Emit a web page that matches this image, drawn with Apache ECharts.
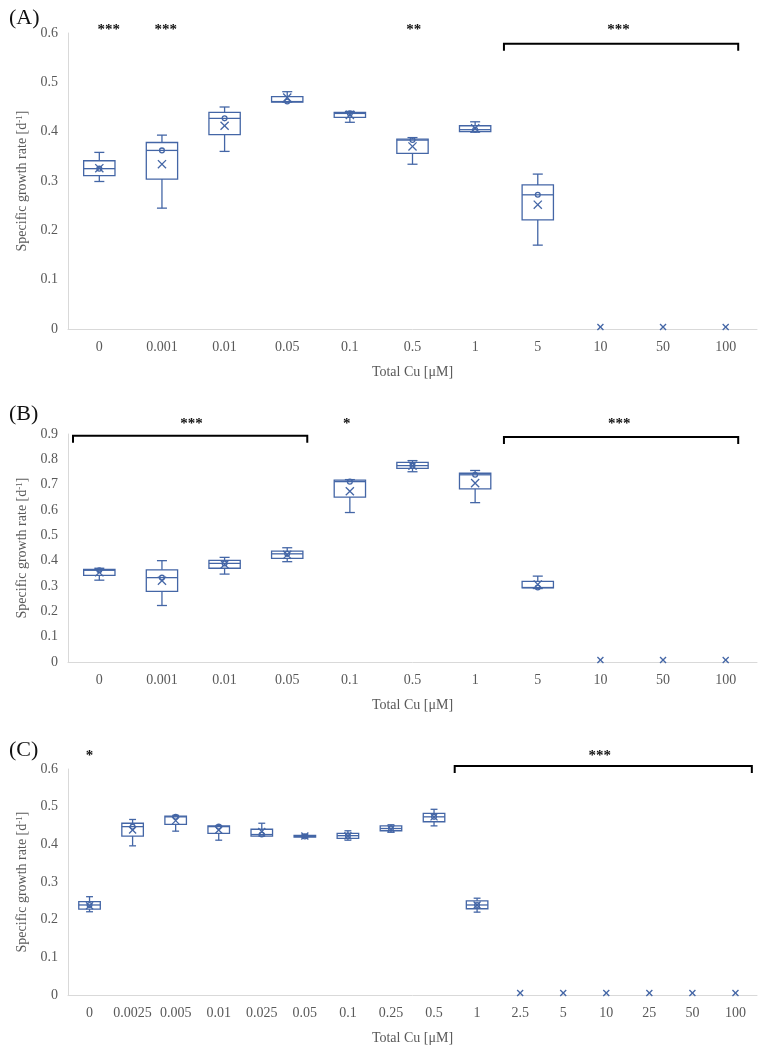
<!DOCTYPE html>
<html>
<head>
<meta charset="utf-8">
<script src="https://cdn.jsdelivr.net/npm/echarts@6/dist/echarts.min.js"></script>
<style>
  html, body { margin: 0; padding: 0; background: #fff; }
  #chart { width: 759px; height: 1052px; }
</style>
</head>
<body>
<div id="chart"></div>
<script>
// panel A
var catsA = ['0', '0.001', '0.01', '0.05', '0.1', '0.5', '1', '5', '10', '50', '100'];
var minA  = [0.299, 0.245, 0.360, 0.460, 0.419, 0.334, 0.399, 0.170, 0, 0, 0];
var q1A   = [0.311, 0.304, 0.394, 0.460, 0.429, 0.356, 0.400, 0.221, 0, 0, 0];
var medA  = [0.325, 0.362, 0.427, 0.461, 0.437, 0.383, 0.404, 0.272, 0, 0, 0];
var q3A   = [0.341, 0.378, 0.439, 0.471, 0.439, 0.385, 0.412, 0.292, 0, 0, 0];
var maxA  = [0.358, 0.393, 0.450, 0.481, 0.441, 0.388, 0.420, 0.314, 0, 0, 0];
var meanA = [0.326, 0.334, 0.412, 0.469, 0.434, 0.370, 0.407, 0.252, 0, 0, 0];

// panel B
var catsB = ['0', '0.001', '0.01', '0.05', '0.1', '0.5', '1', '5', '10', '50', '100'];
var minB  = [0.323, 0.223, 0.347, 0.396, 0.590, 0.751, 0.629, 0.290, 0, 0, 0];
var q1B   = [0.342, 0.279, 0.370, 0.409, 0.651, 0.764, 0.683, 0.293, 0, 0, 0];
var medB  = [0.362, 0.333, 0.389, 0.427, 0.712, 0.775, 0.739, 0.294, 0, 0, 0];
var q3B   = [0.366, 0.364, 0.401, 0.438, 0.718, 0.788, 0.745, 0.318, 0, 0, 0];
var maxB  = [0.370, 0.400, 0.413, 0.451, 0.720, 0.795, 0.756, 0.339, 0, 0, 0];
var meanB = [0.354, 0.321, 0.385, 0.423, 0.674, 0.775, 0.706, 0.306, 0, 0, 0];

// panel C
var catsC = ['0', '0.0025', '0.005', '0.01', '0.025', '0.05', '0.1', '0.25', '0.5', '1', '2.5', '5', '10', '25', '50', '100'];
var minC  = [0.221, 0.396, 0.435, 0.411, 0.422, 0.418, 0.411, 0.432, 0.449, 0.220, 0, 0, 0, 0, 0, 0];
var q1C   = [0.228, 0.422, 0.453, 0.429, 0.422, 0.419, 0.416, 0.436, 0.460, 0.229, 0, 0, 0, 0, 0, 0];
var medC  = [0.239, 0.447, 0.473, 0.447, 0.426, 0.421, 0.423, 0.442, 0.473, 0.239, 0, 0, 0, 0, 0, 0];
var q3C   = [0.248, 0.456, 0.475, 0.449, 0.440, 0.424, 0.429, 0.449, 0.482, 0.250, 0, 0, 0, 0, 0, 0];
var maxC  = [0.261, 0.466, 0.477, 0.450, 0.456, 0.426, 0.436, 0.452, 0.493, 0.257, 0, 0, 0, 0, 0, 0];
var meanC = [0.237, 0.438, 0.463, 0.438, 0.434, 0.422, 0.423, 0.441, 0.473, 0.239, 0, 0, 0, 0, 0, 0];

// significance marks: [category position, level, text] and brackets [from, to, level]
var starsA = [[0.15, 0.613, '***'], [1.06, 0.613, '***'], [5.02, 0.613, '**'], [8.29, 0.613, '***']];
var bracketsA = [[6.46, 10.2, 0.578]];
var starsB = [[1.47, 0.956, '***'], [3.95, 0.956, '*'], [8.30, 0.956, '***']];
var bracketsB = [[-0.42, 3.32, 0.893], [6.46, 10.2, 0.888]];
var starsC = [[0, 0.645, '*'], [11.85, 0.645, '***']];
var bracketsC = [[8.48, 15.38, 0.608]];

var BLUE = '#4466a6';
var GRAY = '#595959';
var FONT = '"Liberation Serif", "Times New Roman", serif';

function boxData(mn, q1, md, q3, mx, mean) {
    return mn.map(function (v, i) {
        return [i, mn[i], q1[i], md[i], q3[i], mx[i], mean[i]];
    });
}

function drawBox(params, api) {
    var i = api.value(0);
    var mn = api.value(1), q1 = api.value(2), md = api.value(3),
        q3 = api.value(4), mx = api.value(5), mean = api.value(6);
    var band = api.size([1, 0])[0];
    var bw = band * 0.25, cw = band * 0.08;
    var cx = api.coord([i, 0])[0];
    var py = function (v) { return api.coord([i, v])[1]; };
    var st = { stroke: BLUE, lineWidth: 1.3, fill: null };
    var kids = [];
    if (mx > 0) {
        kids.push({ type: 'line', shape: { x1: cx, y1: py(mx), x2: cx, y2: py(q3) }, style: st });
        kids.push({ type: 'line', shape: { x1: cx, y1: py(q1), x2: cx, y2: py(mn) }, style: st });
        kids.push({ type: 'line', shape: { x1: cx - cw, y1: py(mx), x2: cx + cw, y2: py(mx) }, style: st });
        kids.push({ type: 'line', shape: { x1: cx - cw, y1: py(mn), x2: cx + cw, y2: py(mn) }, style: st });
        kids.push({ type: 'rect', shape: { x: cx - bw, y: py(q3), width: bw * 2, height: py(q1) - py(q3) }, style: st });
        kids.push({ type: 'line', shape: { x1: cx - bw, y1: py(md), x2: cx + bw, y2: py(md) }, style: st });
        kids.push({ type: 'circle', shape: { cx: cx, cy: py(md), r: 2.4 }, style: st });
    }
    var h = mx > 0 ? Math.max(3.5, band * 0.065) : 3;
    var my = py(mean) - (mx > 0 ? 0 : 2);
    kids.push({ type: 'line', shape: { x1: cx - h, y1: my - h, x2: cx + h, y2: my + h }, style: st });
    kids.push({ type: 'line', shape: { x1: cx - h, y1: my + h, x2: cx + h, y2: my - h }, style: st });
    return { type: 'group', children: kids };
}

function drawStar(params, api) {
    var p = api.coord([api.value(0), api.value(1)]);
    return {
        type: 'text',
        style: {
            text: starsText[params.seriesName][params.dataIndex],
            x: p[0], y: p[1] + 4, align: 'center', verticalAlign: 'middle',
            font: 'bold 15px ' + FONT, fill: '#111'
        }
    };
}

function drawBracket(params, api) {
    var a = api.coord([api.value(0), api.value(2)]);
    var b = api.coord([api.value(1), api.value(2)]);
    return {
        type: 'polyline',
        shape: { points: [[a[0], a[1] + 7], [a[0], a[1]], [b[0], b[1]], [b[0], b[1] + 7]] },
        style: { stroke: '#000', lineWidth: 2, fill: null }
    };
}

var starsText = {
    sA: starsA.map(function (s) { return s[2]; }),
    sB: starsB.map(function (s) { return s[2]; }),
    sC: starsC.map(function (s) { return s[2]; })
};

var panels = [
    { cats: catsA, max: 0.6, top: 33, height: 296, box: boxData(minA, q1A, medA, q3A, maxA, meanA), stars: starsA, brackets: bracketsA, key: 'A' },
    { cats: catsB, max: 0.9, top: 434, height: 228, box: boxData(minB, q1B, medB, q3B, maxB, meanB), stars: starsB, brackets: bracketsB, key: 'B' },
    { cats: catsC, max: 0.6, top: 769, height: 226, box: boxData(minC, q1C, medC, q3C, maxC, meanC), stars: starsC, brackets: bracketsC, key: 'C' }
];

var grid = [], xAxis = [], yAxis = [], series = [], title = [];
var titleTops = [2, 398, 734];

panels.forEach(function (p, g) {
    grid.push({ left: 68, right: 2, top: p.top, height: p.height });
    title.push({ text: '(' + p.key + ')', left: 4, top: titleTops[g], textStyle: { fontFamily: FONT, fontSize: 22, fontWeight: 'normal', color: '#111' } });
    xAxis.push({
        type: 'category', gridIndex: g, data: p.cats, boundaryGap: true,
        axisLine: { onZero: false, lineStyle: { color: '#d9d9d9', width: 1 } },
        axisTick: { show: false },
        axisLabel: { fontFamily: FONT, fontSize: 14, color: GRAY, margin: 11, interval: 0 },
        name: 'Total Cu [μM]', nameLocation: 'middle', nameGap: 36,
        nameTextStyle: { fontFamily: FONT, fontSize: 14, color: GRAY }
    });
    xAxis.push({
        type: 'value', gridIndex: g, min: -0.5, max: p.cats.length - 0.5, show: false
    });
    yAxis.push({
        type: 'value', gridIndex: g, min: 0, max: p.max, interval: 0.1,
        axisLine: { show: true, onZero: false, lineStyle: { color: '#d9d9d9', width: 1 } },
        axisTick: { show: false },
        splitLine: { show: false },
        axisLabel: { fontFamily: FONT, fontSize: 14, color: GRAY, margin: 10 },
        name: 'Specific growth rate [d{sup|-1}]', nameLocation: 'middle', nameGap: 36,
        nameTextStyle: {
            fontFamily: FONT, fontSize: 14, color: GRAY,
            rich: { sup: { fontFamily: FONT, fontSize: 9, color: GRAY, verticalAlign: 'top', padding: [0, 0, 6, 0] } }
        }
    });
    series.push({
        type: 'custom', name: 'box' + p.key, xAxisIndex: g * 2, yAxisIndex: g,
        data: p.box, encode: { x: 0, y: [1, 2, 3, 4, 5, 6] },
        renderItem: drawBox, clip: false, silent: true
    });
    series.push({
        type: 'custom', name: 's' + p.key, xAxisIndex: g * 2 + 1, yAxisIndex: g,
        data: p.stars.map(function (s) { return [s[0], s[1]]; }), encode: { x: 0, y: 1 },
        renderItem: drawStar, clip: false, silent: true
    });
    series.push({
        type: 'custom', name: 'br' + p.key, xAxisIndex: g * 2 + 1, yAxisIndex: g,
        data: p.brackets, encode: { x: [0, 1], y: 2 },
        renderItem: drawBracket, clip: false, silent: true
    });
});

var myChart = echarts.init(document.getElementById('chart'));
myChart.setOption({
    animation: false,
    backgroundColor: '#fff',
    title: title,
    grid: grid,
    xAxis: xAxis,
    yAxis: yAxis,
    series: series
});
</script>
</body>
</html>
